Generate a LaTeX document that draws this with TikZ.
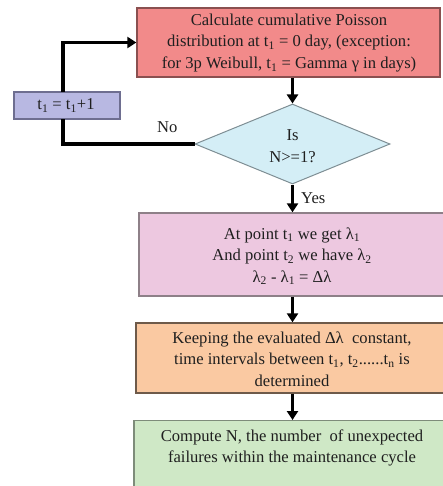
\documentclass[tikz,border=0pt]{standalone}
\usepackage{fontspec}
\setmainfont{Liberation Serif}
\usetikzlibrary{arrows.meta,shapes.geometric}
\definecolor{redfill}{HTML}{F28A8A}
\definecolor{redline}{HTML}{8A5050}
\definecolor{purfill}{HTML}{B8B8E2}
\definecolor{purline}{HTML}{6E6E90}
\definecolor{diafill}{HTML}{D4EEF6}
\definecolor{dialine}{HTML}{7E8E94}
\definecolor{pinkfill}{HTML}{EDC8E0}
\definecolor{pinkline}{HTML}{8E8088}
\definecolor{orfill}{HTML}{FAC9A2}
\definecolor{orline}{HTML}{6E5A4A}
\definecolor{grfill}{HTML}{CFE8C6}
\definecolor{grline}{HTML}{7E8C7A}
\tikzset{
  box/.style={draw, line width=1.3pt, inner sep=0pt, align=center},
  txt/.style={align=center, inner sep=0pt, text=black!88, font=\fontsize{16.6}{21.5}\selectfont},
  flow/.style={line width=3.4pt, -{Triangle[width=11pt,length=9pt]}},
  loopline/.style={line width=3.4pt},
}
\newcommand{\sub}[1]{\textsubscript{#1}}
\begin{document}
\begin{tikzpicture}[x=1pt,y=-1pt]
\useasboundingbox (0,0) rectangle (443,486);
\clip (0,0) rectangle (443,486);
% boxes
\node[box, draw=redline, fill=redfill, minimum width=303pt, minimum height=69pt] (red) at (288.5,42.5) {};
\node[txt] (redtxt) at (289,43) {Calculate cumulative Poisson\\distribution at t\sub{1} = 0 day, (exception:\\for 3p Weibull, t\sub{1} = Gamma γ in days)};
\node[box, draw=purline, fill=purfill, minimum width=106pt, minimum height=27pt] (pur) at (67,105.5) {};
\node[txt] (purtxt) at (66,105.5) {t\sub{1} = t\sub{1}+1};
\node[box, draw=dialine, fill=diafill, diamond, minimum width=195pt, minimum height=80pt, aspect=2.44, line width=1pt] (dia) at (292.5,144) {};
\node[txt] (diatxt) at (292.5,146) {Is\\N>=1?};
\node[box, draw=pinkline, fill=pinkfill, minimum width=306pt, minimum height=83pt] (pink) at (292,254.5) {};
\node[txt] (pinktxt) at (292,256) {At point t\sub{1} we get λ\sub{1}\\And point t\sub{2} we have λ\sub{2}\\λ\sub{2} - λ\sub{1} = Δλ};
\node[box, draw=orline, fill=orfill, minimum width=312pt, minimum height=70pt] (orange) at (292,358) {};
\node[txt] (ortxt) at (292,359) {Keeping the evaluated Δλ\ \ constant,\\time intervals between t\sub{1}, t\sub{2}......t\sub{n} is\\determined};
\node[box, draw=grline, fill=grfill, minimum width=316pt, minimum height=80pt, anchor=north] (green) at (292,420) {};
\node[txt] (grtxt) at (292,448) {Compute N, the number\ \ of unexpected\\failures within the maintenance cycle};
% connectors
\coordinate (lp) at (63,119);
\coordinate (lt) at (63,92);
\draw[loopline] (dia.west) -| (lp);
\draw[flow] (lt) |- (red.west);
\draw[flow] (red.south -| dia.north) -- (dia.north);
\draw[flow] (dia.south) -- (pink.north -| dia.south);
\draw[flow] (pink.south -| dia.south) -- (orange.north -| dia.south);
\draw[flow] (orange.south -| dia.south) -- (green.north -| dia.south);
\node[txt, anchor=west] (no) at (157,127) {No};
\node[txt, anchor=west] (yes) at (301,198) {Yes};
\end{tikzpicture}
\end{document}
